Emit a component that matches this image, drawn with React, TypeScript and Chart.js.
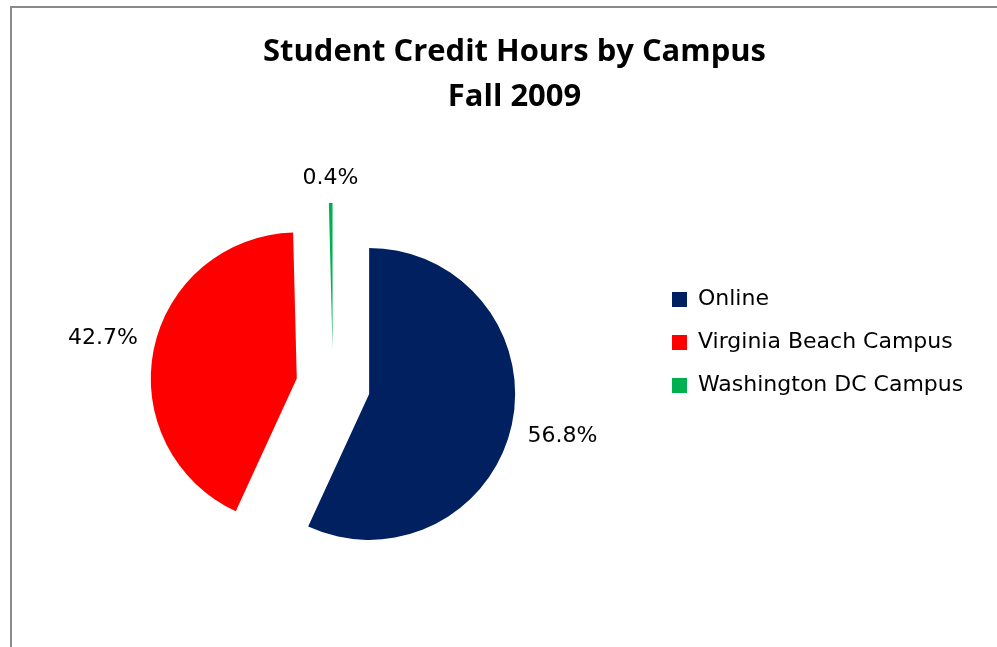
import React, { useEffect, useRef } from 'react';
import {
  Chart,
  registerables,
  ArcElement,
  PieController,
  DoughnutController,
  layouts,
} from 'chart.js';

Chart.register(...registerables);

// ---- data ----
const categories = ['Online', 'Virginia Beach Campus', 'Washington DC Campus'];
const sharePercent = [56.8, 42.7, 0.4];
const sliceColors = ['#002060', '#FF0000', '#00B050'];
const titleLines = ['Student Credit Hours by Campus', 'Fall 2009'];

// ---- style constants ----
const CANVAS_W = 997;
const CANVAS_H = 647;
const EXPLODE = 37; // distance each slice is pulled out from the centre
const PIE_RADIUS = 146;
const LABEL_GAP = 16;
const TEXT_FAMILY = "'DejaVu Sans', sans-serif";
const TEXT_SIZE = 22;
const TITLE_FAMILY = "'Open Sans', sans-serif";
const TITLE_TARGET_WIDTH = 503;
const LEGEND_PAD = 21;
const LEGEND_BOX = 15;
const LEGEND_LEFT = 651;
const PIE_CENTER_X = 333;
const TITLE_CENTER_X = 514.5;

// Arc element that is exploded along its mid angle
class ExplodedArc extends (ArcElement as any) {
  static id = 'explodedArc';
  draw(ctx: CanvasRenderingContext2D) {
    const mid = ((this as any).startAngle + (this as any).endAngle) / 2;
    ctx.save();
    ctx.translate(Math.cos(mid) * EXPLODE, Math.sin(mid) * EXPLODE);
    super.draw(ctx);
    ctx.restore();
  }
}

class ExplodedPieController extends (PieController as any) {
  static id = 'explodedPie';
  static defaults = { dataElementType: 'explodedArc' };
  static overrides = (DoughnutController as any).overrides;
}

Chart.register(ExplodedArc as any, ExplodedPieController as any);

const framePlugin = {
  id: 'frame',
  beforeDraw(chart: any) {
    const ctx = chart.ctx;
    ctx.save();
    ctx.fillStyle = '#ffffff';
    ctx.fillRect(0, 0, chart.width, chart.height);
    ctx.fillStyle = '#8a8a8a';
    ctx.fillRect(10, 6, chart.width - 10, 2);
    ctx.fillRect(10, 6, 2, chart.height - 6);
    ctx.restore();
  },
};

const labelPlugin = {
  id: 'sliceLabels',
  afterDatasetsDraw(chart: any) {
    const ctx = chart.ctx;
    const meta = chart.getDatasetMeta(0);
    const values = chart.data.datasets[0].data;
    ctx.save();
    ctx.font = `${TEXT_SIZE}px ${TEXT_FAMILY}`;
    ctx.fillStyle = '#000000';
    ctx.textAlign = 'center';
    ctx.textBaseline = 'middle';
    meta.data.forEach((arc: any, i: number) => {
      const p = arc.getProps(['x', 'y', 'startAngle', 'endAngle', 'outerRadius'], true);
      const mid = (p.startAngle + p.endAngle) / 2;
      const c = Math.cos(mid);
      const s = Math.sin(mid);
      const ax = p.x + c * EXPLODE;
      const ay = p.y + s * EXPLODE;
      const text = `${Number(values[i]).toFixed(1)}%`;
      const w = ctx.measureText(text).width;
      const d = p.outerRadius + LABEL_GAP + Math.abs(c) * (w / 2) + Math.abs(s) * 8;
      ctx.fillText(text, ax + c * d, ay + s * d);
    });
    ctx.restore();
  },
};

export default function App() {
  const ref = useRef<HTMLCanvasElement>(null);

  useEffect(() => {
    const canvas = ref.current;
    if (!canvas) return;

    const m = document.createElement('canvas').getContext('2d') as CanvasRenderingContext2D;
    m.font = `bold 100px ${TITLE_FAMILY}`;
    const titleSize = (100 * TITLE_TARGET_WIDTH) / m.measureText(titleLines[0]).width;
    m.font = `${TEXT_SIZE}px ${TEXT_FAMILY}`;
    const maxText = Math.max(...categories.map((c) => m.measureText(c).width));
    const legendWidth = LEGEND_PAD + LEGEND_BOX + TEXT_SIZE / 2 + maxText + 10;
    const padRight = CANVAS_W - LEGEND_LEFT - legendWidth;
    const padLeft = 2 * TITLE_CENTER_X - CANVAS_W + padRight;
    const spacer = padLeft + LEGEND_LEFT - 2 * PIE_CENTER_X;

    const spacerPlugin = {
      id: 'legendSpacer',
      beforeInit(chart: any) {
        const box: any = {
          position: 'right',
          weight: 0,
          fullSize: false,
          options: { display: false },
          left: 0,
          top: 0,
          right: 0,
          bottom: 0,
          width: 0,
          height: 0,
          isHorizontal() {
            return false;
          },
          update(_maxWidth: number, maxHeight: number) {
            box.width = spacer;
            box.height = maxHeight;
          },
          draw() {},
        };
        layouts.addBox(chart, box);
      },
    };

    const chart = new Chart(canvas, {
      type: 'explodedPie' as any,
      data: {
        labels: categories,
        datasets: [
          {
            data: sharePercent,
            backgroundColor: sliceColors,
            borderWidth: 0,
            radius: PIE_RADIUS,
          } as any,
        ],
      },
      options: {
        responsive: false,
        animation: false,
        events: [],
        layout: { padding: { left: padLeft, right: padRight, top: 0, bottom: 0 } },
        plugins: {
          tooltip: { enabled: false },
          title: {
            display: true,
            text: titleLines,
            color: '#000000',
            font: { family: TITLE_FAMILY, size: titleSize, weight: 'bold', lineHeight: '45px' } as any,
            padding: { top: 30, bottom: 5 },
          },
          legend: {
            display: true,
            position: 'right',
            align: 'start',
            fullSize: false,
            maxWidth: legendWidth + 20,
            title: {
              display: true,
              text: '',
              font: { size: 10, lineHeight: 1 } as any,
              padding: { top: 132.5, bottom: 0 },
            },
            labels: {
              color: '#000000',
              font: { family: TEXT_FAMILY, size: TEXT_SIZE },
              boxWidth: LEGEND_BOX,
              boxHeight: LEGEND_BOX,
              padding: LEGEND_PAD,
            },
          },
        },
      } as any,
      plugins: [framePlugin, spacerPlugin, labelPlugin] as any,
    });

    return () => chart.destroy();
  }, []);

  return (
    <div
      style={{
        position: 'fixed',
        left: 0,
        top: 0,
        width: CANVAS_W,
        height: CANVAS_H,
        overflow: 'hidden',
        background: '#ffffff',
      }}
    >
      <canvas ref={ref} width={CANVAS_W} height={CANVAS_H} style={{ display: 'block' }} />
    </div>
  );
}
